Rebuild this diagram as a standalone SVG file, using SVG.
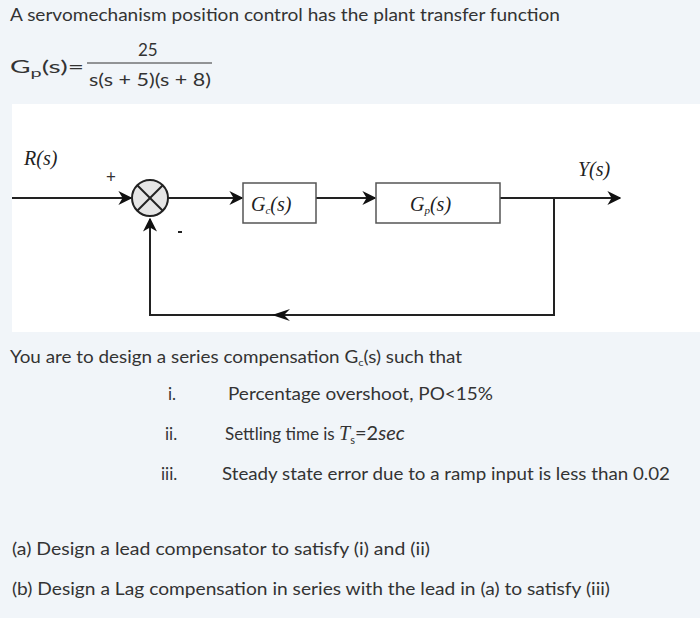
<svg xmlns="http://www.w3.org/2000/svg" width="700" height="618" viewBox="0 0 700 618">
<defs>
<style>
.t{font-family:Lato,"Liberation Sans",sans-serif;font-size:17px;fill:#333}
.m{font-family:"Liberation Serif",serif;font-style:italic;font-size:20px;fill:#222}
.ln{stroke:#222;stroke-width:2;fill:none}
</style>
<marker id="a" viewBox="0 0 10 10" refX="9" refY="5" markerWidth="7" markerHeight="7" orient="auto"><path d="M0,0L10,5L0,10L3,5z" fill="#111"/></marker>
</defs>
<rect width="700" height="618" fill="#f1f5f9"/>
<text class="t" x="10" y="21" textLength="550" lengthAdjust="spacingAndGlyphs">A servomechanism position control has the plant transfer function</text>
<text class="t" x="10" y="73" font-size="20" textLength="74" lengthAdjust="spacingAndGlyphs">G<tspan font-size="12" dy="4">p</tspan><tspan dy="-4">(s)=</tspan></text>
<text class="t" x="138" y="56" font-size="19">25</text>
<line x1="87" y1="63" x2="212" y2="63" stroke="#333" stroke-width="1"/>
<text class="t" x="89" y="86" font-size="19" textLength="122" lengthAdjust="spacingAndGlyphs">s(s + 5)(s + 8)</text>
<rect x="12" y="104" width="688" height="228" fill="#fff"/>
<g id="connectors">
<line class="ln" x1="12" y1="198" x2="131" y2="198" marker-end="url(#a)"/>
<line class="ln" x1="168" y1="198" x2="242" y2="198" marker-end="url(#a)"/>
<line class="ln" x1="316" y1="198" x2="375" y2="198" marker-end="url(#a)"/>
<line class="ln" x1="500" y1="198" x2="620" y2="198" marker-end="url(#a)"/>
<polyline class="ln" points="554,198 554,315 150,315 150,219" marker-end="url(#a)"/>
<path d="M272,309L290,315L272,321L278,315z" fill="#111" transform="rotate(180 281 315)"/>
</g>
<g id="sum">
<circle cx="150" cy="198" r="18" fill="#e6e6e6" stroke="#222" stroke-width="2"/>
<line x1="137" y1="185" x2="163" y2="211" stroke="#222" stroke-width="2"/>
<line x1="163" y1="185" x2="137" y2="211" stroke="#222" stroke-width="2"/>
<text class="t" x="106" y="183" font-size="20">+</text>
<line x1="178" y1="232" x2="182" y2="232" stroke="#222" stroke-width="2"/>
</g>
<g id="gc"><rect x="243" y="183" width="73" height="40" fill="#fff" stroke="#555" stroke-width="1.5"/>
<text class="m" x="251" y="211">G<tspan font-size="11" dy="3">c</tspan><tspan dy="-3">(s)</tspan></text></g>
<g id="gp"><rect x="376" y="183" width="124" height="40" fill="#fff" stroke="#555" stroke-width="1.5"/>
<text class="m" x="410" y="211">G<tspan font-size="11" dy="3">p</tspan><tspan dy="-3">(s)</tspan></text></g>
<text class="m" x="24" y="165" font-size="19">R(s)</text>
<text class="m" x="578" y="176" font-size="19">Y(s)</text>
<text class="t" x="10" y="363" textLength="452" lengthAdjust="spacingAndGlyphs">You are to design a series compensation G<tspan font-size="10" dy="3">c</tspan><tspan dy="-3">(s) such that</tspan></text>
<text class="t" x="168" y="400">i.</text><text class="t" x="228" y="400" textLength="265" lengthAdjust="spacingAndGlyphs">Percentage overshoot, PO&lt;15%</text>
<text class="t" x="165" y="440">ii.</text><text class="t" x="225" y="440">Settling time is <tspan font-family="Liberation Serif" font-style="italic" font-size="20">T</tspan><tspan font-size="11" dy="4">s</tspan><tspan dy="-4" font-size="20">=2</tspan><tspan font-style="italic" font-size="20">sec</tspan></text>
<text class="t" x="161" y="480">iii.</text><text class="t" x="222" y="480" textLength="448" lengthAdjust="spacingAndGlyphs">Steady state error due to a ramp input is less than 0.02</text>
<text class="t" x="12" y="555" textLength="418" lengthAdjust="spacingAndGlyphs">(a)  Design a lead compensator to satisfy (i) and (ii)</text>
<text class="t" x="12" y="595" textLength="598" lengthAdjust="spacingAndGlyphs">(b)  Design a Lag compensation in series with the lead in (a) to satisfy (iii)</text>
</svg>
